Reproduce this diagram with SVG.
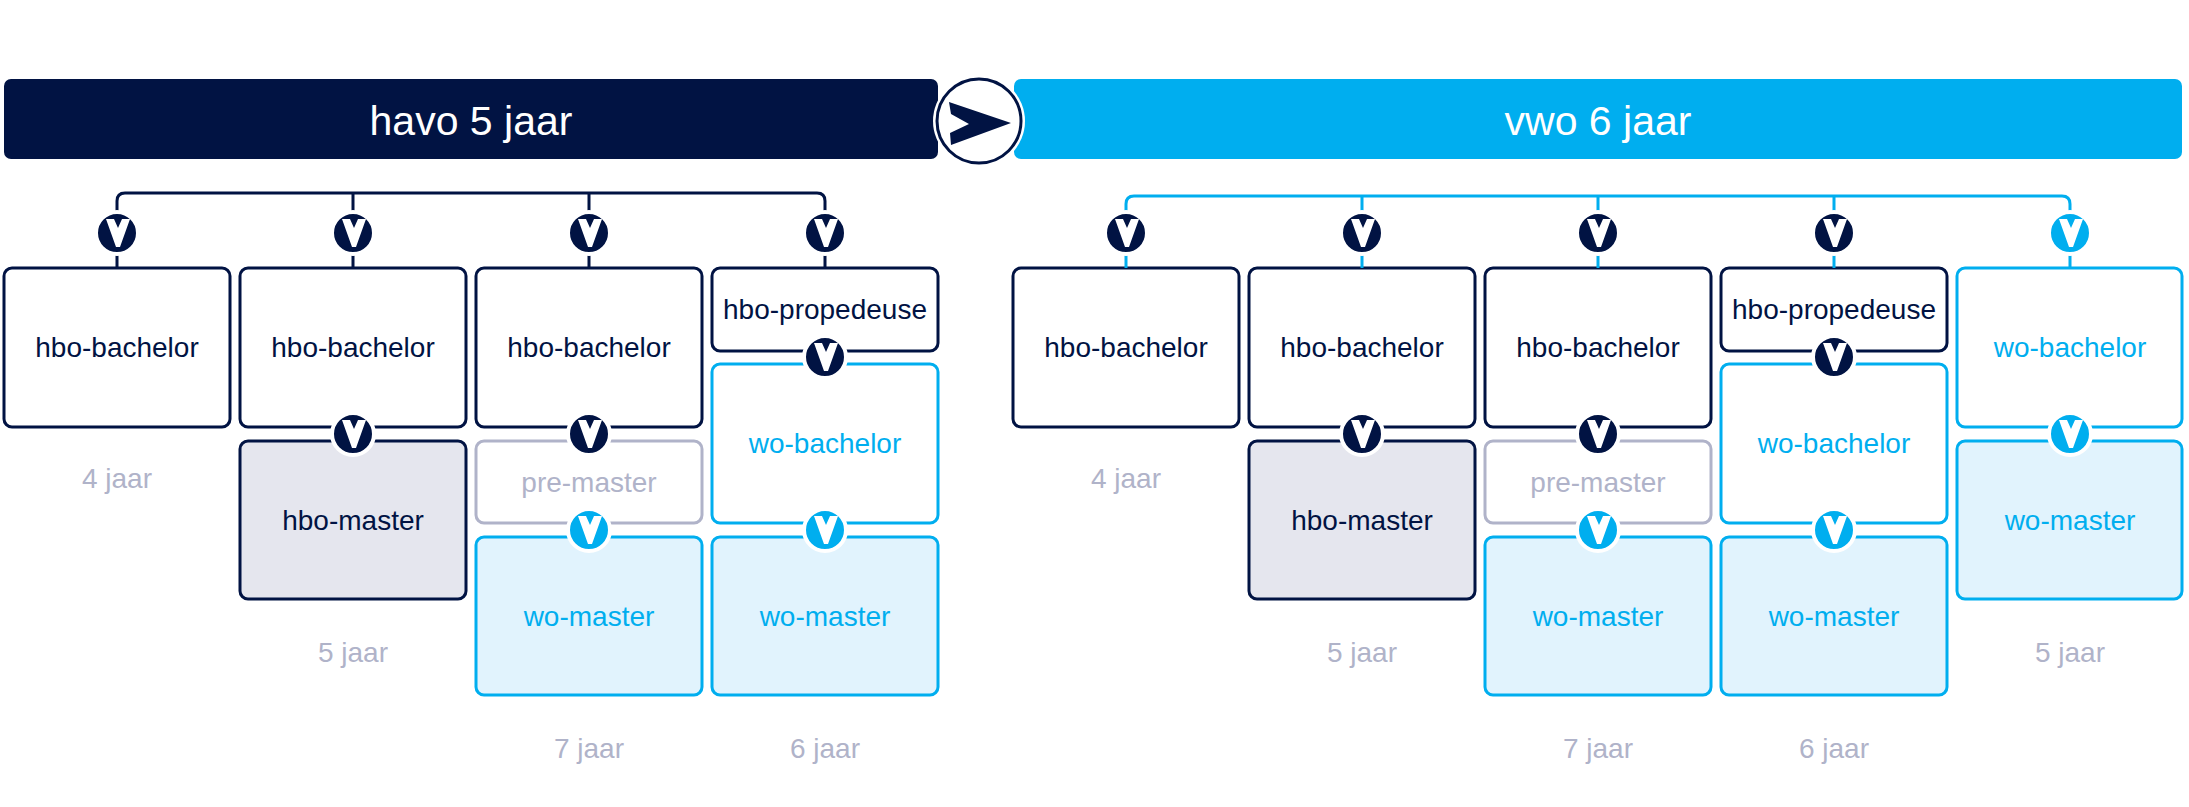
<svg xmlns="http://www.w3.org/2000/svg" xmlns:xlink="http://www.w3.org/1999/xlink" width="2189" height="807" viewBox="0 0 2189 807">
  <style>
    .lbl { font-family: "Liberation Sans", Arial, sans-serif; font-size: 28px; text-anchor: middle; }
    .hdr { font-family: "Liberation Sans", Arial, sans-serif; font-size: 41px; text-anchor: middle; fill: #ffffff; }
    .yr { font-family: "Liberation Sans", Arial, sans-serif; font-size: 28px; text-anchor: middle; fill: #b0b3c9; }
    .navy { fill: #011343; }
    .dark { fill: #ffffff; stroke: #011343; stroke-width: 3; }
    .darkg { fill: #e5e6ee; stroke: #011343; stroke-width: 3; }
    .gray { fill: #ffffff; stroke: #b0b3c9; stroke-width: 3; }
    .blue { fill: #ffffff; stroke: #00aeef; stroke-width: 3; }
    .bluef { fill: #e1f3fd; stroke: #00aeef; stroke-width: 3; }
    .tn { fill: #011343; }
    .tb { fill: #00aeef; }
    .tg { fill: #b0b3c9; }
    .tree { fill: none; stroke-width: 3; }
  </style>
  <defs>
    <g id="vn">
      <circle r="21" fill="#011343" stroke="#ffffff" stroke-width="4"/>
      <polygon points="-11,-14 -3,-14 1,-5 5,-14 13,-14 3,14 -1,14" fill="#ffffff"/>
    </g>
    <g id="vb">
      <circle r="21" fill="#00aeef" stroke="#ffffff" stroke-width="4"/>
      <polygon points="-11,-14 -3,-14 1,-5 5,-14 13,-14 3,14 -1,14" fill="#ffffff"/>
    </g>
  </defs>

  <!-- headers -->
  <g id="havo">
    <rect x="4" y="79" width="934" height="80" rx="7" class="navy"/>
    <text x="471" y="135" class="hdr">havo 5 jaar</text>
  </g>
  <g id="vwo">
    <rect x="1014" y="79" width="1168" height="80" rx="7" fill="#00aeef"/>
    <text x="1598" y="135" class="hdr">vwo 6 jaar</text>
  </g>
  <g id="arrow">
    <circle cx="979" cy="121" r="46" fill="#ffffff"/>
    <circle cx="979" cy="121" r="42" fill="#ffffff" stroke="#011343" stroke-width="3"/>
    <polygon points="949,102 1011,123 951,145 950,133 969,124 951,114" fill="#011343"/>
  </g>

  <!-- havo columns -->
  <g id="h1-bachelor"><rect x="4" y="268" width="226" height="159" rx="8" class="dark"/><text x="117" y="357" class="lbl tn">hbo-bachelor</text></g>
  <g id="h1-years"><text x="117" y="488" class="yr">4 jaar</text></g>

  <g id="h2-bachelor"><rect x="240" y="268" width="226" height="159" rx="8" class="dark"/><text x="353" y="357" class="lbl tn">hbo-bachelor</text></g>
  <g id="h2-master"><rect x="240" y="441" width="226" height="158" rx="8" class="darkg"/><text x="353" y="530" class="lbl tn">hbo-master</text></g>
  <g id="h2-years"><text x="353" y="662" class="yr">5 jaar</text></g>

  <g id="h3-bachelor"><rect x="476" y="268" width="226" height="159" rx="8" class="dark"/><text x="589" y="357" class="lbl tn">hbo-bachelor</text></g>
  <g id="h3-premaster"><rect x="476" y="441" width="226" height="82" rx="8" class="gray"/><text x="589" y="492" class="lbl tg">pre-master</text></g>
  <g id="h3-womaster"><rect x="476" y="537" width="226" height="158" rx="8" class="bluef"/><text x="589" y="626" class="lbl tb">wo-master</text></g>
  <g id="h3-years"><text x="589" y="758" class="yr">7 jaar</text></g>

  <g id="h4-propedeuse"><rect x="712" y="268" width="226" height="83" rx="8" class="dark"/><text x="825" y="319" class="lbl tn">hbo-propedeuse</text></g>
  <g id="h4-wobachelor"><rect x="712" y="364" width="226" height="159" rx="8" class="blue"/><text x="825" y="453" class="lbl tb">wo-bachelor</text></g>
  <g id="h4-womaster"><rect x="712" y="537" width="226" height="158" rx="8" class="bluef"/><text x="825" y="626" class="lbl tb">wo-master</text></g>
  <g id="h4-years"><text x="825" y="758" class="yr">6 jaar</text></g>

  <!-- vwo columns -->
  <g id="v1-bachelor"><rect x="1013" y="268" width="226" height="159" rx="8" class="dark"/><text x="1126" y="357" class="lbl tn">hbo-bachelor</text></g>
  <g id="v1-years"><text x="1126" y="488" class="yr">4 jaar</text></g>

  <g id="v2-bachelor"><rect x="1249" y="268" width="226" height="159" rx="8" class="dark"/><text x="1362" y="357" class="lbl tn">hbo-bachelor</text></g>
  <g id="v2-master"><rect x="1249" y="441" width="226" height="158" rx="8" class="darkg"/><text x="1362" y="530" class="lbl tn">hbo-master</text></g>
  <g id="v2-years"><text x="1362" y="662" class="yr">5 jaar</text></g>

  <g id="v3-bachelor"><rect x="1485" y="268" width="226" height="159" rx="8" class="dark"/><text x="1598" y="357" class="lbl tn">hbo-bachelor</text></g>
  <g id="v3-premaster"><rect x="1485" y="441" width="226" height="82" rx="8" class="gray"/><text x="1598" y="492" class="lbl tg">pre-master</text></g>
  <g id="v3-womaster"><rect x="1485" y="537" width="226" height="158" rx="8" class="bluef"/><text x="1598" y="626" class="lbl tb">wo-master</text></g>
  <g id="v3-years"><text x="1598" y="758" class="yr">7 jaar</text></g>

  <g id="v4-propedeuse"><rect x="1721" y="268" width="226" height="83" rx="8" class="dark"/><text x="1834" y="319" class="lbl tn">hbo-propedeuse</text></g>
  <g id="v4-wobachelor"><rect x="1721" y="364" width="226" height="159" rx="8" class="blue"/><text x="1834" y="453" class="lbl tb">wo-bachelor</text></g>
  <g id="v4-womaster"><rect x="1721" y="537" width="226" height="158" rx="8" class="bluef"/><text x="1834" y="626" class="lbl tb">wo-master</text></g>
  <g id="v4-years"><text x="1834" y="758" class="yr">6 jaar</text></g>

  <g id="v5-wobachelor"><rect x="1957" y="268" width="225" height="159" rx="8" class="blue"/><text x="2070" y="357" class="lbl tb">wo-bachelor</text></g>
  <g id="v5-womaster"><rect x="1957" y="441" width="225" height="158" rx="8" class="bluef"/><text x="2070" y="530" class="lbl tb">wo-master</text></g>
  <g id="v5-years"><text x="2070" y="662" class="yr">5 jaar</text></g>

  <!-- connectors -->
  <g id="connectors">
    <path class="tree" stroke="#011343" d="M117,268 V201 Q117,193 125,193 H817 Q825,193 825,201 V268 M353,193 V268 M589,193 V268"/>
    <path class="tree" stroke="#00aeef" d="M1126,268 V204 Q1126,196 1134,196 H2062 Q2070,196 2070,204 V268 M1362,196 V268 M1598,196 V268 M1834,196 V268"/>
    <use xlink:href="#vn" x="117" y="233"/>
    <use xlink:href="#vn" x="353" y="233"/>
    <use xlink:href="#vn" x="589" y="233"/>
    <use xlink:href="#vn" x="825" y="233"/>
    <use xlink:href="#vn" x="353" y="434"/>
    <use xlink:href="#vn" x="589" y="434"/>
    <use xlink:href="#vb" x="589" y="530"/>
    <use xlink:href="#vn" x="825" y="357"/>
    <use xlink:href="#vb" x="825" y="530"/>

    <use xlink:href="#vn" x="1126" y="233"/>
    <use xlink:href="#vn" x="1362" y="233"/>
    <use xlink:href="#vn" x="1598" y="233"/>
    <use xlink:href="#vn" x="1834" y="233"/>
    <use xlink:href="#vb" x="2070" y="233"/>
    <use xlink:href="#vn" x="1362" y="434"/>
    <use xlink:href="#vn" x="1598" y="434"/>
    <use xlink:href="#vb" x="1598" y="530"/>
    <use xlink:href="#vn" x="1834" y="357"/>
    <use xlink:href="#vb" x="1834" y="530"/>
    <use xlink:href="#vb" x="2070" y="434"/>
  </g>
</svg>
